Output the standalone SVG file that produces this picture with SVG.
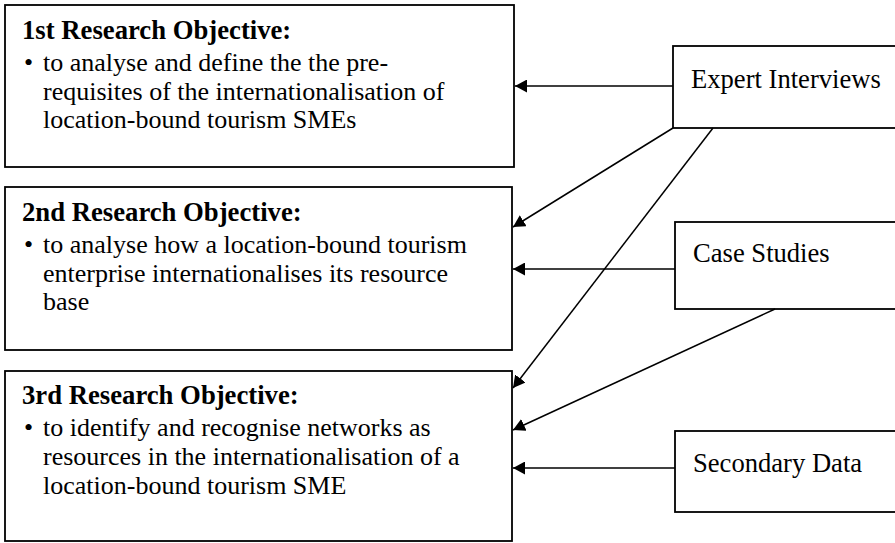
<svg xmlns="http://www.w3.org/2000/svg" width="895" height="543" viewBox="0 0 895 543">
  <style>
    .box { fill: #ffffff; stroke: #000000; stroke-width: 1.8; }
    .t { font-family: "Liberation Serif", "Times New Roman", serif; font-size: 26px; fill: #000000; }
    .h { font-weight: bold; font-size: 26.7px; }
    .src { font-size: 26.6px; }
    .link { stroke: #000000; stroke-width: 1.5; fill: none; marker-end: url(#arrow); }
  </style>
  <defs>
    <marker id="arrow" markerUnits="userSpaceOnUse" markerWidth="13" markerHeight="13" refX="12" refY="6.5" orient="auto">
      <path d="M0,0 L12,6.5 L0,13 Z" fill="#000000"/>
    </marker>
  </defs>

  <!-- research objectives -->
  <g id="objective-1">
    <rect class="box" x="5" y="5" width="509" height="162"/>
    <text class="t h" x="22" y="38.5">1st Research Objective:</text>
    <text class="t" x="24" y="71">•</text>
    <text class="t" x="43" y="71">to analyse and define the the pre-</text>
    <text class="t" x="43" y="99.5">requisites of the internationalisation of</text>
    <text class="t" x="43" y="128">location-bound tourism SMEs</text>
  </g>

  <g id="objective-2">
    <rect class="box" x="5" y="187" width="507" height="163"/>
    <text class="t h" x="22" y="221">2nd Research Objective:</text>
    <text class="t" x="24" y="253">•</text>
    <text class="t" x="43" y="253">to analyse how a location-bound tourism</text>
    <text class="t" x="43" y="281.5">enterprise internationalises its resource</text>
    <text class="t" x="43" y="310">base</text>
  </g>

  <g id="objective-3">
    <rect class="box" x="5" y="371" width="507" height="170"/>
    <text class="t h" x="22" y="404">3rd Research Objective:</text>
    <text class="t" x="24" y="436">•</text>
    <text class="t" x="43" y="436">to identify and recognise networks as</text>
    <text class="t" x="43" y="465">resources in the internationalisation of a</text>
    <text class="t" x="43" y="494">location-bound tourism SME</text>
  </g>

  <!-- data sources -->
  <g id="expert-interviews">
    <rect class="box" x="673" y="46" width="240" height="82"/>
    <text class="t src" x="691" y="88">Expert Interviews</text>
  </g>

  <g id="case-studies">
    <rect class="box" x="675" y="222" width="240" height="87"/>
    <text class="t src" x="693" y="262">Case Studies</text>
  </g>

  <g id="secondary-data">
    <rect class="box" x="675" y="431" width="240" height="81"/>
    <text class="t src" x="693" y="472">Secondary Data</text>
  </g>

  <!-- connectors -->
  <g id="connectors">
    <line class="link" x1="673" y1="86" x2="515" y2="86"/>
    <line class="link" x1="673" y1="128" x2="513" y2="227"/>
    <line class="link" x1="713" y1="128" x2="513" y2="388"/>
    <line class="link" x1="675" y1="269" x2="513" y2="269"/>
    <line class="link" x1="775" y1="309" x2="513" y2="430"/>
    <line class="link" x1="675" y1="468" x2="513" y2="468"/>
  </g>
</svg>
